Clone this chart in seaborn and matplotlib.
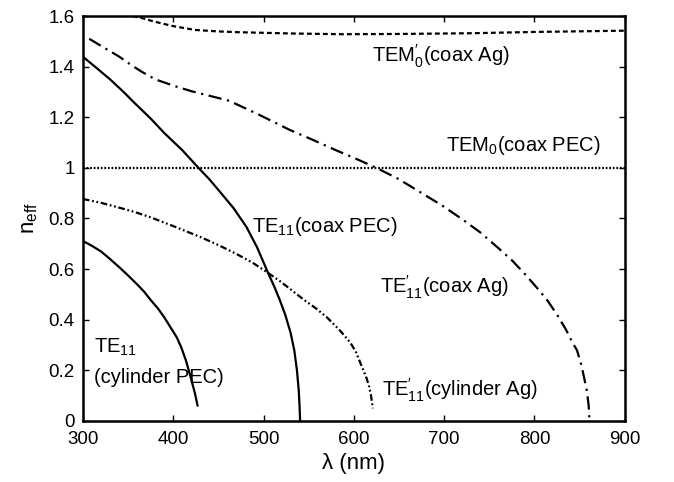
import matplotlib
matplotlib.use("Agg")
import matplotlib.pyplot as plt
import seaborn as sns
from matplotlib.ticker import MultipleLocator

# ----- data (wavelength in nm, effective index) -----
tem_ag_x = [355, 365, 380, 400, 424, 450, 472, 530, 587, 650, 731, 800, 900]
tem_ag_y = [1.60, 1.592, 1.577, 1.560, 1.545, 1.539, 1.536, 1.531, 1.528, 1.529, 1.532, 1.537, 1.542]

tem_pec_x = [300, 900]
tem_pec_y = [1.0, 1.0]

te_coax_ag_x = [307, 320, 340, 352, 365, 380, 400, 420, 440, 462, 495, 529, 555, 580, 603, 625,
                650, 673, 697, 720, 740, 760, 775, 790, 803, 814, 825, 835, 842, 847, 852, 855, 858, 860, 861]
te_coax_ag_y = [1.51, 1.482, 1.44, 1.41, 1.38, 1.35, 1.325, 1.303, 1.285, 1.265, 1.21, 1.15, 1.11, 1.07, 1.035, 1.0,
                0.955, 0.905, 0.853, 0.797, 0.745, 0.683, 0.635, 0.578, 0.525, 0.478, 0.42, 0.36, 0.31, 0.28, 0.22, 0.17, 0.12, 0.06, 0.0]

te_coax_pec_x = [300, 315, 330, 345, 357, 375, 390, 410, 428, 440, 453, 467, 481, 493, 505, 512, 518, 524, 530, 534, 537, 539, 540, 540.5]
te_coax_pec_y = [1.439, 1.395, 1.35, 1.30, 1.257, 1.195, 1.138, 1.07, 1.0, 0.955, 0.90, 0.84, 0.767, 0.685, 0.585, 0.53, 0.478, 0.42, 0.348, 0.28, 0.20, 0.12, 0.05, 0.0]

te_cyl_pec_x = [300, 310, 320, 330, 341, 350, 360, 368, 375, 383, 390, 397, 404, 409, 414, 418, 421, 424, 427]
te_cyl_pec_y = [0.711, 0.692, 0.67, 0.64, 0.605, 0.575, 0.54, 0.51, 0.478, 0.445, 0.41, 0.37, 0.33, 0.29, 0.24, 0.19, 0.15, 0.11, 0.06]

te_cyl_ag_x = [300, 320, 340, 357, 374, 400, 430, 450, 470, 488, 505, 518, 530, 545, 558, 570, 584, 596, 602, 606, 610, 614, 617, 619, 621]
te_cyl_ag_y = [0.877, 0.862, 0.843, 0.826, 0.806, 0.77, 0.727, 0.695, 0.66, 0.625, 0.585, 0.553, 0.52, 0.478, 0.445, 0.41, 0.36, 0.31, 0.275, 0.24, 0.205, 0.17, 0.135, 0.10, 0.05]

# ----- style -----
sns.set_style("ticks", {"axes.edgecolor": "black", "text.color": "black",
                        "xtick.color": "black", "ytick.color": "black",
                        "axes.labelcolor": "black"})
plt.rcParams["font.family"] = ["Liberation Sans", "DejaVu Sans"]
plt.rcParams["mathtext.fontset"] = "custom"
plt.rcParams["mathtext.rm"] = "Liberation Sans"
plt.rcParams["mathtext.it"] = "Liberation Sans:italic"

fig = plt.figure(figsize=(6.74, 4.82), dpi=100)
ax = fig.add_axes([0.123, 0.1266, 0.804, 0.8402])

lw = 1.6
sns.lineplot(x=tem_ag_x, y=tem_ag_y, ax=ax, color="black", lw=lw, linestyle=(0, (2.2, 1.4)))
sns.lineplot(x=tem_pec_x, y=tem_pec_y, ax=ax, color="black", lw=lw, linestyle=(0, (0.8, 0.8)))
sns.lineplot(x=te_coax_ag_x, y=te_coax_ag_y, ax=ax, color="black", lw=lw, linestyle=(0, (6, 2.5, 1, 2.5)))
sns.lineplot(x=te_coax_pec_x, y=te_coax_pec_y, ax=ax, color="black", lw=lw)
sns.lineplot(x=te_cyl_pec_x, y=te_cyl_pec_y, ax=ax, color="black", lw=lw)
sns.lineplot(x=te_cyl_ag_x, y=te_cyl_ag_y, ax=ax, color="black", lw=lw, linestyle=(0, (3, 1.2, 0.8, 1.2, 0.8, 1.2)))

# curve labels
fs = 14.5
ax.text(620, 1.44, r"$\mathregular{TEM_0^{\prime}}$(coax Ag)", fontsize=fs, va="center")
ax.text(702, 1.09, r"$\mathregular{TEM_0}$(coax PEC)", fontsize=fs, va="center")
ax.text(487, 0.77, r"$\mathregular{TE_{11}}$(coax PEC)", fontsize=fs, va="center")
ax.text(629, 0.53, r"$\mathregular{TE^{\prime}_{11}}$(coax Ag)", fontsize=fs, va="center")
ax.text(312, 0.29, r"$\mathregular{TE_{11}}$", fontsize=fs, va="center")
ax.text(312, 0.17, "(cylinder PEC)", fontsize=fs, va="center")
ax.text(631, 0.12, r"$\mathregular{TE^{\prime}_{11}}$(cylinder Ag)", fontsize=fs, va="center")

ax.set_xlim(300, 900)
ax.set_ylim(0, 1.6)
ax.xaxis.set_major_locator(MultipleLocator(100))
ax.yaxis.set_major_locator(MultipleLocator(0.2))
ax.yaxis.set_major_formatter(plt.FuncFormatter(lambda v, p: f"{v:g}"))
ax.tick_params(direction="in", top=True, right=True, length=4, width=1, labelsize=13.5)
ax.tick_params(axis="x", pad=7)
ax.tick_params(axis="y", pad=6)
for s in ax.spines.values():
    s.set_linewidth(1.8)

ax.set_xlabel("λ (nm)", fontsize=16, labelpad=4)
ax.set_ylabel(r"$\mathregular{n_{eff}}$", fontsize=16, labelpad=6)

fig.savefig("out.png", dpi=100)
